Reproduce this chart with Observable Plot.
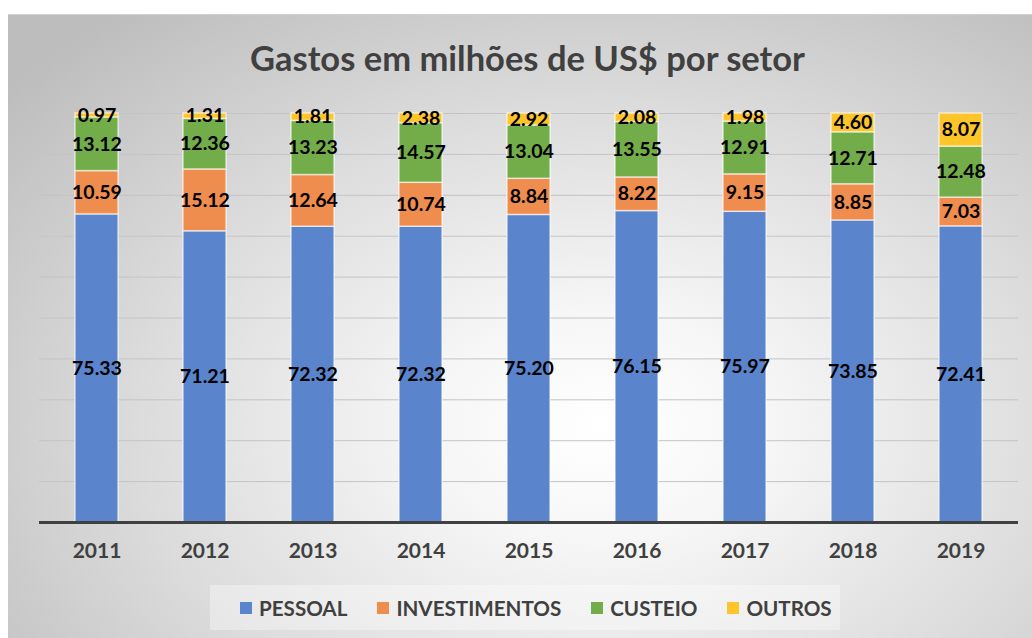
<!DOCTYPE html>
<html>
<head>
<meta charset="utf-8">
<script src="https://cdn.jsdelivr.net/npm/d3@7"></script>
<script src="https://cdn.jsdelivr.net/npm/@observablehq/plot@0.6"></script>
<style>
  html, body { margin: 0; padding: 0; background: #ffffff; }
  #frame {
    position: absolute; left: 8px; top: 14px; width: 1024px; height: 624px;
    background: radial-gradient(ellipse 75% 85% at 58% 66%, #ffffff 0%, #f6f6f6 22%, #dcdcdc 60%, #bdbdbd 100%);
    border-top: 1px solid #d0d0d0;
  }
  #title {
    position: absolute; left: 0; top: 37px; width: 1055px; text-align: center;
    font: bold 34.5px Lato, sans-serif; color: #404040;
  }
  #chart { position: absolute; left: 0; top: 0; }
  #legend {
    position: absolute; left: 210px; top: 585px; width: 630px; height: 45px;
    background: rgba(255,255,255,0.35);
    display: flex; align-items: center; justify-content: flex-start; gap: 30px;
    padding-left: 30px; box-sizing: border-box;
    font: bold 20.6px Lato, sans-serif; color: #404040;
  }
  .item { display: flex; align-items: center; gap: 7px; }
  .sw { width: 12px; height: 12px; display: inline-block; }
</style>
</head>
<body>
<div id="frame"></div>
<div id="title">Gastos em milhões de US$ por setor</div>
<div id="chart"></div>
<div id="legend"></div>
<script>
const years = ["2011","2012","2013","2014","2015","2016","2017","2018","2019"];
const sectors = ["PESSOAL","INVESTIMENTOS","CUSTEIO","OUTROS"];
const colors = ["#5a85cd","#ef8d4f","#72ad4a","#fdc52a"];
const pessoal = [75.33, 71.21, 72.32, 72.32, 75.20, 76.15, 75.97, 73.85, 72.41];
const investimentos = [10.59, 15.12, 12.64, 10.74, 8.84, 8.22, 9.15, 8.85, 7.03];
const custeio = [13.12, 12.36, 13.23, 14.57, 13.04, 13.55, 12.91, 12.71, 12.48];
const outros = [0.97, 1.31, 1.81, 2.38, 2.92, 2.08, 1.98, 4.60, 8.07];
const gridTicks = [10, 20, 30, 40, 50, 60, 70, 80, 90, 100];

const series = [pessoal, investimentos, custeio, outros];
const data = [];
years.forEach((yr, i) => {
  sectors.forEach((s, j) => data.push({year: yr, sector: s, value: series[j][i]}));
});

const W = 1032, H = 580;
const plot = Plot.plot({
  width: W, height: H,
  marginTop: 113, marginBottom: 58, marginLeft: 39, marginRight: 14,
  style: {background: "transparent", overflow: "visible"},
  x: {domain: years, paddingInner: 0.6, paddingOuter: 0.3, label: null},
  y: {domain: [0, 100], axis: null},
  color: {domain: sectors, range: colors},
  marks: [
    Plot.ruleY(gridTicks, {stroke: "#c4c4c4", strokeWidth: 1}),
    Plot.barY(data, {x: "year", y: "value", z: "sector", fill: "sector",
      stroke: "#ffffff", strokeOpacity: 0.6, strokeWidth: 1.5, inset: 0}),
    Plot.text(data, Plot.stackY({x: "year", y: "value", z: "sector",
      text: d => d.value.toFixed(2), fill: "#000000", fontSize: 19.5, fontWeight: "bold"})),
    Plot.ruleY([0], {stroke: "#404040", strokeWidth: 3}),
    Plot.axisX({tickSize: 0, tickPadding: 21, fontSize: 21, fontWeight: "bold", fill: "#404040", label: null})
  ]
});
plot.style.fontFamily = "Lato, sans-serif";
document.getElementById("chart").appendChild(plot);

const legend = document.getElementById("legend");
sectors.forEach((s, i) => {
  const it = document.createElement("div");
  it.className = "item";
  it.innerHTML = `<span class="sw" style="background:${colors[i]}"></span><span>${s}</span>`;
  legend.appendChild(it);
});
</script>
</body>
</html>
